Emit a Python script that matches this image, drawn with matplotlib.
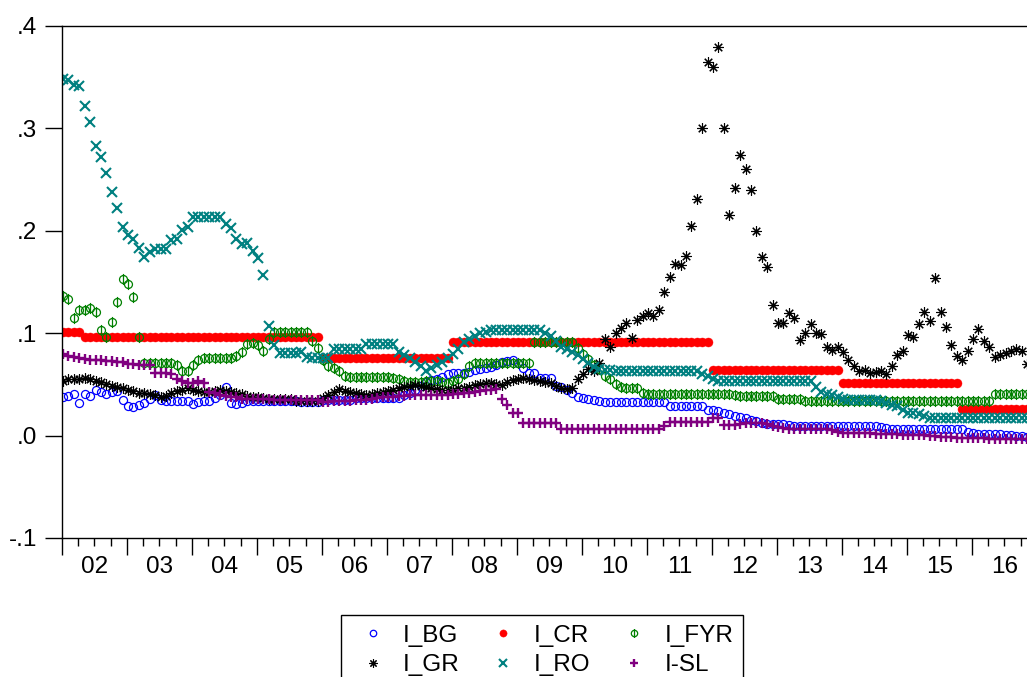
import matplotlib.pyplot as plt
import numpy as np
from matplotlib.path import Path
from matplotlib import transforms

plt.rcParams['font.family'] = ['Liberation Sans', 'DejaVu Sans']

# monthly data, 2002M01 .. 2016M11, one row per year
I_BG = [
    .038, .039, .041, .032, .041, .039, .045, .043, .041, .043, .044, .035,
    .029, .028, .030, .032, .036, .040, .035, .034, .034, .034, .034, .034,
    .031, .033, .034, .034, .037, .040, .047, .032, .031, .032, .034, .034,
    .034, .034, .034, .034, .034, .034, .034, .034, .033, .033, .033, .033,
    .035, .035, .035, .035, .035, .035, .037, .037, .037, .037, .037, .037,
    .037, .037, .037, .040, .042, .045, .048, .052, .054, .055, .057, .060,
    .061, .061, .061, .062, .064, .065, .066, .067, .069, .072, .073, .074,
    .071, .066, .061, .061, .056, .056, .056, .048, .047, .045, .042, .038,
    .037, .036, .035, .034, .033, .033, .033, .033, .033, .033, .033, .033,
    .033, .033, .033, .033, .029, .029, .029, .029, .029, .029, .029, .025,
    .025, .024, .022, .021, .019, .018, .017, .015, .014, .012, .011, .011,
    .011, .011, .010, .009, .009, .009, .009, .009, .009, .009, .009, .009,
    .009, .009, .009, .009, .009, .009, .009, .008, .007, .006, .006, .006,
    .006, .006, .006, .006, .006, .006, .006, .006, .006, .006, .006, .004,
    .003, .002, .002, .002, .002, .002, .001, .001, .000, .000, -.001,
]

I_CR = [
    .101, .101, .101, .101, .0965, .0965, .0965, .0965, .0965, .0965, .0965, .0965,
    .0965, .0965, .0965, .0965, .0965, .0965, .0965, .0965, .0965, .0965, .0965, .0965,
    .0965, .0965, .0965, .0965, .0965, .0965, .0965, .0965, .0965, .0965, .0965, .0965,
    .0965, .0965, .0965, .0965, .0965, .0965, .0965, .0965, .0965, .0965, .0965, .0965,
    .076, .076, .076, .076, .076, .076, .076, .076, .076, .076, .076, .076,
    .076, .076, .076, .076, .076, .076, .076, .076, .076, .076, .076, .076,
    .091, .091, .091, .091, .091, .091, .091, .091, .091, .091, .091, .091,
    .091, .091, .091, .091, .091, .091, .091, .091, .091, .091, .091, .091,
    .091, .091, .091, .091, .091, .091, .091, .091, .091, .091, .091, .091,
    .091, .091, .091, .091, .091, .091, .091, .091, .091, .091, .091, .091,
    .064, .064, .064, .064, .064, .064, .064, .064, .064, .064, .064, .064,
    .064, .064, .064, .064, .064, .064, .064, .064, .064, .064, .064, .064,
    .0515, .0515, .0515, .0515, .0515, .0515, .0515, .0515, .0515, .0515, .0515, .0515,
    .0515, .0515, .0515, .0515, .0515, .0515, .0515, .0515, .0515, .0515, .026, .026,
    .026, .026, .026, .026, .026, .026, .026, .026, .026, .026, .026,
]

I_FYR = [
    .136, .1335, .115, .1225, .123, .125, .1205, .103, .096, .111, .130, .1525,
    .1485, .1355, .0965, .071, .071, .071, .071, .071, .071, .069, .063, .063,
    .0685, .074, .076, .076, .076, .076, .076, .076, .0775, .0815, .089, .0905,
    .088, .0825, .0945, .101, .101, .101, .101, .101, .101, .101, .092, .086,
    .074, .068, .066, .063, .058, .057, .057, .057, .057, .057, .057, .057,
    .057, .056, .055, .053, .052, .052, .052, .053, .053, .053, .052, .0515,
    .053, .055, .060, .068, .071, .071, .071, .071, .071, .071, .071, .071,
    .071, .071, .071, .091, .091, .091, .091, .091, .091, .091, .091, .086,
    .080, .075, .069, .065, .058, .055, .050, .047, .046, .046, .046, .042,
    .041, .041, .041, .041, .041, .041, .041, .041, .041, .041, .041, .041,
    .041, .041, .041, .041, .040, .0385, .0385, .0385, .0385, .0385, .0385, .0385,
    .036, .036, .036, .036, .036, .0335, .0335, .0335, .0335, .0335, .0335, .0335,
    .0335, .0335, .0335, .0335, .0335, .0335, .0335, .0335, .0335, .0335, .0335, .0335,
    .0335, .0335, .0335, .0335, .0335, .0335, .0335, .0335, .0335, .0335, .0335, .0335,
    .0335, .0335, .0335, .0335, .041, .041, .041, .041, .041, .041, .041,
]

I_GR = [
    .053, .055, .055, .055, .056, .055, .053, .052, .050, .048, .047, .046,
    .045, .044, .042, .042, .041, .040, .038, .039, .042, .044, .045, .046,
    .045, .044, .043, .043, .044, .045, .044, .043, .042, .041, .039, .038,
    .0375, .037, .036, .036, .036, .036, .036, .034, .034, .034, .034, .034,
    .037, .040, .043, .0455, .044, .043, .042, .041, .040, .041, .042, .043,
    .044, .045, .046, .047, .048, .049, .048, .047, .046, .0455, .045, .045,
    .045, .046, .0465, .0475, .049, .050, .051, .0515, .050, .049, .052, .054,
    .055, .056, .055, .054, .053, .052, .051, .048, .046, .0455, .046, .055,
    .060, .065, .063, .071, .0945, .087, .100, .105, .110, .0955, .113, .117,
    .120, .1165, .123, .140, .155, .168, .167, .175, .2045, .2315, .300, .365,
    .360, .3795, .300, .215, .242, .2745, .260, .240, .1995, .1745, .165, .128,
    .110, .110, .120, .115, .093, .100, .1085, .100, .099, .087, .084, .087,
    .0815, .074, .068, .0635, .0645, .061, .062, .063, .060, .068, .079, .083,
    .098, .0965, .1085, .1205, .112, .154, .1205, .106, .088, .0775, .074, .083,
    .094, .104, .0925, .087, .077, .079, .081, .083, .085, .0825, .070,
]

I_RO = [
    .348, .347, .342, .341, .322, .306, .283, .272, .256, .238, .222, .204,
    .196, .192, .183, .174, .179, .182, .182, .182, .191, .192, .201, .204,
    .213, .213, .213, .213, .213, .213, .207, .203, .192, .187, .188, .180,
    .173, .157, .107, .088, .081, .081, .081, .081, .082, .077, .076, .076,
    .076, .076, .085, .085, .085, .085, .085, .085, .089, .089, .089, .089,
    .089, .089, .082, .079, .076, .072, .068, .063, .066, .069, .072, .076,
    .080, .085, .091, .094, .097, .100, .101, .103, .103, .103, .103, .103,
    .103, .103, .103, .103, .103, .100, .097, .092, .087, .085, .082, .079,
    .075, .071, .067, .065, .064, .064, .063, .063, .063, .063, .063, .063,
    .063, .063, .063, .063, .063, .063, .063, .063, .063, .063, .060, .058,
    .055, .053, .053, .053, .053, .053, .053, .053, .053, .053, .053, .053,
    .053, .053, .053, .053, .053, .053, .053, .047, .043, .041, .040, .038,
    .036, .035, .035, .035, .035, .035, .035, .034, .032, .030, .029, .025,
    .022, .022, .021, .019, .017, .017, .017, .017, .017, .017, .017, .017,
    .017, .017, .017, .017, .017, .017, .017, .017, .017, .017, .017,
]

I_SL = [
    .080, .078, .077, .076, .075, .074, .0735, .0735, .073, .0725, .072, .0715,
    .070, .070, .069, .069, .069, .061, .061, .061, .0605, .055, .053, .0515,
    .0515, .053, .0515, .043, .042, .040, .039, .038, .0375, .036, .036, .036,
    .036, .036, .036, .035, .035, .035, .035, .035, .035, .035, .035, .035,
    .033, .033, .034, .034, .034, .034, .035, .035, .035, .036, .037, .038,
    .038, .038, .039, .039, .040, .040, .040, .040, .040, .040, .040, .040,
    .041, .041, .042, .042, .043, .044, .045, .045, .0455, .036, .030, .022,
    .022, .012, .012, .012, .012, .012, .012, .012, .006, .006, .006, .006,
    .006, .006, .006, .006, .006, .006, .006, .006, .006, .006, .006, .006,
    .006, .006, .006, .0098, .013, .013, .013, .013, .013, .013, .013, .013,
    .0175, .017, .010, .010, .010, .011, .012, .012, .012, .012, .011, .009,
    .008, .007, .006, .006, .006, .006, .006, .006, .006, .006, .005, .004,
    .003, .003, .003, .003, .003, .003, .002, .002, .002, .002, .002, .001,
    .001, .001, .001, .001, .000, .000, -.001, -.001, -.001, -.002, -.002, -.002,
    -.002, -.002, -.002, -.003, -.003, -.003, -.003, -.003, -.003, -.003, -.003,
]

year_labels = ['02', '03', '04', '05', '06', '07', '08', '09',
               '10', '11', '12', '13', '14', '15', '16']
y_ticks = [-0.1, 0.0, 0.1, 0.2, 0.3, 0.4]
y_tick_labels = ['-.1', '.0', '.1', '.2', '.3', '.4']

n = len(I_BG)
t = 2002 + (np.arange(n) + 0.2) / 12

# circle with a vertical stroke, like EViews' phi marker
phi = Path.make_compound_path(Path.unit_circle(),
                              Path([(0, -1.4), (0, 1.4)]))

W, H = 1027, 677
fig = plt.figure(figsize=(W / 100, H / 100), dpi=100)
ax = fig.add_axes([62 / W, 139 / H, 968 / W, 512 / H])

h_bg, = ax.plot(t, I_BG, ls='none', marker='o', ms=5.8, mfc='none',
                mec='#0000ff', mew=0.9, label='I_BG')
h_cr, = ax.plot(t, I_CR, ls='none', marker='o', ms=6.5, mfc='#ff0000',
                mec='#ff0000', mew=0.3, label='I_CR')
h_fyr, = ax.plot(t, I_FYR, ls='none', marker=phi, ms=8, mfc='none',
                 mec='#008000', mew=0.9, label='I_FYR')
h_gr, = ax.plot(t, I_GR, ls='none', marker=(8, 2, 0), ms=7.5,
                mec='black', mew=0.8, label='I_GR')
h_ro, = ax.plot(t, I_RO, ls='none', marker='x', ms=6.5, mec='#008080',
                mew=1.5, label='I_RO')
h_sl, = ax.plot(t, I_SL, ls='none', marker='+', ms=7.5, mec='#800080',
                mew=1.7, label='I-SL')

ax.set_xlim(2002, 2002 + 968 / 65)
ax.set_ylim(-0.1, 0.4)
ax.set_yticks(y_ticks)
ax.set_yticklabels(y_tick_labels)

years = np.arange(2002, 2017)
ax.set_xticks(years)
ax.set_xticklabels([])
ax.set_xticks(np.arange(2002, 2017, 0.25), minor=True)
ax.tick_params(axis='both', which='major', direction='out', length=12,
               width=1, labelsize=17.5, pad=6)
ax.tick_params(axis='x', which='minor', direction='out', length=6, width=1)
ax.tick_params(axis='y', which='minor', left=False)

for sp in ['left', 'top', 'bottom']:
    ax.spines[sp].set_linewidth(1.0)
ax.spines['right'].set_visible(False)

trans = transforms.blended_transform_factory(ax.transData, ax.transAxes)
for yr, lab in zip(years, year_labels):
    ax.text(yr + 0.5, -0.069, lab, transform=trans, ha='center',
            va='baseline', fontsize=17.5)

# legend is filled column by column
handles = [h_bg, h_gr, h_cr, h_ro, h_fyr, h_sl]
leg = ax.legend(handles=handles, loc='upper left',
                bbox_to_anchor=(341 / W, 1 - 615 / H),
                bbox_transform=fig.transFigure, ncol=3, fontsize=17.5,
                frameon=True, fancybox=False, edgecolor='black',
                framealpha=1, borderpad=0.4, handlelength=1.8,
                handletextpad=0.35, columnspacing=0.9, labelspacing=0.3,
                markerscale=0.8, borderaxespad=0)
leg.get_frame().set_linewidth(1.0)

fig.savefig('out.png', dpi=100)
